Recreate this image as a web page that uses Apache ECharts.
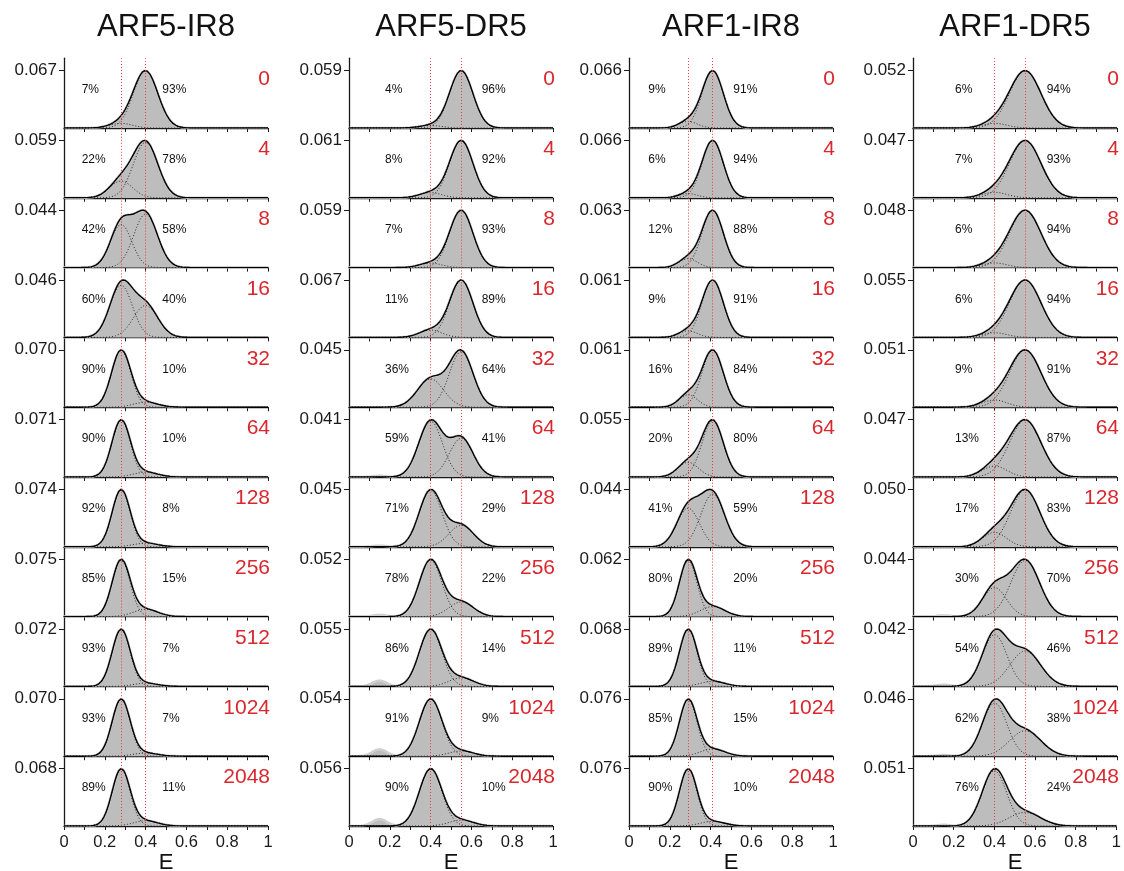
<!DOCTYPE html>
<html><head><meta charset="utf-8">
<script src="https://cdn.jsdelivr.net/npm/echarts@6/dist/echarts.min.js"></script>
<style>html,body{margin:0;padding:0;background:#fff}#c{width:1124px;height:871px}</style>
</head><body><div id="c"></div>
<script>
// ---------------- DATA ----------------
const constructs = ['ARF5-IR8', 'ARF5-DR5', 'ARF1-IR8', 'ARF1-DR5'];
const rowLabels = ['0', '4', '8', '16', '32', '64', '128', '256', '512', '1024', '2048'];

// y tick label (peak height) of every panel
const yTickARF5IR8 = [0.067, 0.059, 0.044, 0.046, 0.070, 0.071, 0.074, 0.075, 0.072, 0.070, 0.068];
const yTickARF5DR5 = [0.059, 0.061, 0.059, 0.067, 0.045, 0.041, 0.045, 0.052, 0.055, 0.054, 0.056];
const yTickARF1IR8 = [0.066, 0.066, 0.063, 0.061, 0.061, 0.055, 0.044, 0.062, 0.068, 0.076, 0.076];
const yTickARF1DR5 = [0.052, 0.047, 0.048, 0.055, 0.051, 0.047, 0.050, 0.044, 0.042, 0.046, 0.051];

// population fractions (%) of the low-E and high-E states
const lowARF5IR8  = [7, 22, 42, 60, 90, 90, 92, 85, 93, 93, 89];
const highARF5IR8 = [93, 78, 58, 40, 10, 10, 8, 15, 7, 7, 11];
const lowARF5DR5  = [4, 8, 7, 11, 36, 59, 71, 78, 86, 91, 90];
const highARF5DR5 = [96, 92, 93, 89, 64, 41, 29, 22, 14, 9, 10];
const lowARF1IR8  = [9, 6, 12, 9, 16, 20, 41, 80, 89, 85, 90];
const highARF1IR8 = [91, 94, 88, 91, 84, 80, 59, 20, 11, 15, 10];
const lowARF1DR5  = [6, 7, 6, 6, 9, 13, 17, 30, 54, 62, 76];
const highARF1DR5 = [94, 93, 94, 94, 91, 87, 83, 70, 46, 38, 24];

// state centres (E) — also the dotted reference lines
const centresARF5IR8 = [0.28, 0.40];
const centresARF5DR5 = [0.40, 0.55];
const centresARF1IR8 = [0.29, 0.41];
const centresARF1DR5 = [0.40, 0.55];

// state widths (sigma, E units) per panel
const sigLowARF5IR8  = [0.055, 0.056, 0.052, 0.055, 0.047, 0.045, 0.044, 0.044, 0.044, 0.044, 0.044];
const sigHighARF5IR8 = [0.060, 0.060, 0.058, 0.060, 0.060, 0.060, 0.060, 0.060, 0.060, 0.060, 0.060];
const sigLowARF5DR5  = [0.055, 0.055, 0.055, 0.055, 0.064, 0.058, 0.056, 0.055, 0.055, 0.055, 0.055];
const sigHighARF5DR5 = [0.057, 0.057, 0.057, 0.057, 0.058, 0.058, 0.060, 0.060, 0.060, 0.060, 0.060];
const sigLowARF1IR8  = [0.045, 0.045, 0.045, 0.045, 0.045, 0.050, 0.055, 0.043, 0.043, 0.043, 0.043];
const sigHighARF1IR8 = [0.052, 0.052, 0.052, 0.052, 0.052, 0.052, 0.058, 0.060, 0.060, 0.060, 0.060];
const sigLowARF1DR5  = [0.060, 0.060, 0.060, 0.060, 0.060, 0.060, 0.058, 0.058, 0.060, 0.060, 0.060];
const sigHighARF1DR5 = [0.077, 0.077, 0.077, 0.077, 0.077, 0.077, 0.072, 0.070, 0.075, 0.077, 0.077];

// small donor-only bump in the histograms (fraction of panel peak), at E ~ 0.15
const donorCentre = 0.15, donorWidth = 0.035;
const donorARF5IR8 = [0, 0, 0, 0, 0, 0, 0, 0, 0, 0, 0];
const donorARF5DR5 = [0, 0, 0, 0, 0, 0.02, 0.02, 0.03, 0.10, 0.12, 0.12];
const donorARF1IR8 = [0, 0, 0, 0, 0, 0, 0, 0, 0, 0, 0];
const donorARF1DR5 = [0, 0, 0, 0, 0, 0, 0, 0.02, 0.03, 0.02, 0.02];

const xTickLabels = ['0', '0.2', '0.4', '0.6', '0.8', '1'];

// ---------------- BUILD ----------------
const yTicks = [yTickARF5IR8, yTickARF5DR5, yTickARF1IR8, yTickARF1DR5];
const lows = [lowARF5IR8, lowARF5DR5, lowARF1IR8, lowARF1DR5];
const highs = [highARF5IR8, highARF5DR5, highARF1IR8, highARF1DR5];
const centres = [centresARF5IR8, centresARF5DR5, centresARF1IR8, centresARF1DR5];
const sigLows = [sigLowARF5IR8, sigLowARF5DR5, sigLowARF1IR8, sigLowARF1DR5];
const sigHighs = [sigHighARF5IR8, sigHighARF5DR5, sigHighARF1IR8, sigHighARF1DR5];
const donors = [donorARF5IR8, donorARF5DR5, donorARF1IR8, donorARF1DR5];

const FONT = '"Liberation Sans", Arial, Helvetica, sans-serif';
const W = 204, H = 69.8, TOP0 = 58.2;
const colLeft = [64, 349, 629, 913];
const leftLblOff = [17.7, 36, 19.3, 42];
const rightLblOff = [98.3, 132.7, 104.3, 133.7];
const TICK_FRAC = 0.823;
const RED = '#d9272e';

const gauss = (x, m, s) => Math.exp(-0.5 * ((x - m) / s) ** 2) / s;
const xs = [];
for (let i = 0; i <= 250; i++) xs.push(i / 250);

const grids = [], xAxes = [], yAxes = [], series = [], graphics = [];
const nRows = rowLabels.length;

constructs.forEach((name, c) => {
  graphics.push({ type: 'text', x: colLeft[c] + W / 2, y: 27,
    style: { text: name, font: '31px ' + FONT, fill: '#111', align: 'center', verticalAlign: 'middle', textAlign: 'center', textVerticalAlign: 'middle' } });
  graphics.push({ type: 'text', x: colLeft[c] + W / 2, y: 862.5,
    style: { text: 'E', font: '22px ' + FONT, fill: '#111', align: 'center', verticalAlign: 'middle', textAlign: 'center', textVerticalAlign: 'middle' } });

  for (let r = 0; r < nRows; r++) {
    const idx = c * nRows + r;
    const top = TOP0 + r * H;
    const tick = yTicks[c][r];
    const w1 = lows[c][r] / 100, w2 = highs[c][r] / 100;
    const [m1, m2] = centres[c];
    const s1 = sigLows[c][r], s2 = sigHighs[c][r];
    const c1 = xs.map(x => w1 * gauss(x, m1, s1));
    const c2 = xs.map(x => w2 * gauss(x, m2, s2));
    const fit = xs.map((x, i) => c1[i] + c2[i]);
    const k = tick / Math.max(...fit);
    const hist = xs.map((x, i) => Math.max(fit[i] * k,
      donors[c][r] * tick * Math.exp(-0.5 * ((x - donorCentre) / donorWidth) ** 2)));

    grids.push({ left: colLeft[c], top: top, width: W, height: H, containLabel: false });
    xAxes.push({
      type: 'value', gridIndex: idx, min: 0, max: 1, interval: 0.1,
      axisLine: { show: true, onZero: false, lineStyle: { color: '#1a1a1a', width: 1.3 } },
      axisTick: { show: true, inside: false, length: 4, lineStyle: { color: '#1a1a1a', width: 1 } },
      axisLabel: { show: r === nRows - 1, fontSize: 16.5, fontFamily: FONT, color: '#1a1a1a', margin: 8,
        formatter: v => { const t = Math.round(v * 10); return t % 2 === 0 ? xTickLabels[t / 2] : ''; } },
      splitLine: { show: false }
    });
    yAxes.push({
      type: 'value', gridIndex: idx, min: 0, max: tick / TICK_FRAC,
      axisLine: { show: true, onZero: false, lineStyle: { color: '#1a1a1a', width: 1.3 } },
      axisTick: { show: true, inside: false, length: 5, customValues: [tick], lineStyle: { color: '#1a1a1a', width: 1 } },
      axisLabel: { show: true, customValues: [tick], fontSize: 17, fontFamily: FONT, color: '#1a1a1a', margin: 7,
        formatter: v => v.toFixed(3) },
      splitLine: { show: false }
    });
    const base = { type: 'line', xAxisIndex: idx, yAxisIndex: idx, symbol: 'none', showSymbol: false, animation: false, silent: true, clip: true };
    series.push(Object.assign({}, base, {
      data: xs.map((x, i) => [x, hist[i]]), z: 1,
      areaStyle: { color: '#bdbdbd', opacity: 1 },
      lineStyle: { color: '#cfcfcf', width: 2.5 }
    }));
    series.push(Object.assign({}, base, {
      data: xs.map((x, i) => [x, c1[i] * k]), z: 3,
      lineStyle: { color: '#2a2a2a', width: 1, type: [1, 2] }
    }));
    series.push(Object.assign({}, base, {
      data: xs.map((x, i) => [x, c2[i] * k]), z: 3,
      lineStyle: { color: '#2a2a2a', width: 1, type: [1, 2] }
    }));
    series.push(Object.assign({}, base, {
      data: xs.map((x, i) => [x, fit[i] * k]), z: 4,
      lineStyle: { color: '#000', width: 1.4 },
      markLine: { silent: true, animation: false, symbol: ['none', 'none'], label: { show: false },
        lineStyle: { color: '#ec3b40', width: 1, type: [1, 2] },
        data: [{ xAxis: m1 }, { xAxis: m2 }] }
    }));

    graphics.push({ type: 'text', x: colLeft[c] + leftLblOff[c], y: top + 31.8,
      style: { text: lows[c][r] + '%', font: '12px ' + FONT, fill: '#111', align: 'left', verticalAlign: 'middle', textAlign: 'left', textVerticalAlign: 'middle' } });
    graphics.push({ type: 'text', x: colLeft[c] + rightLblOff[c], y: top + 31.8,
      style: { text: highs[c][r] + '%', font: '12px ' + FONT, fill: '#111', align: 'left', verticalAlign: 'middle', textAlign: 'left', textVerticalAlign: 'middle' } });
    graphics.push({ type: 'text', x: colLeft[c] + W + 2, y: top + 21.5,
      style: { text: rowLabels[r], font: '21px ' + FONT, fill: RED, align: 'right', verticalAlign: 'middle', textAlign: 'right', textVerticalAlign: 'middle' } });
  }
});

const chart = echarts.init(document.getElementById('c'), null, { renderer: 'canvas' });
chart.setOption({
  animation: false,
  backgroundColor: '#fff',
  grid: grids, xAxis: xAxes, yAxis: yAxes, series: series,
  graphic: { elements: graphics }
});
</script>
</body></html>
